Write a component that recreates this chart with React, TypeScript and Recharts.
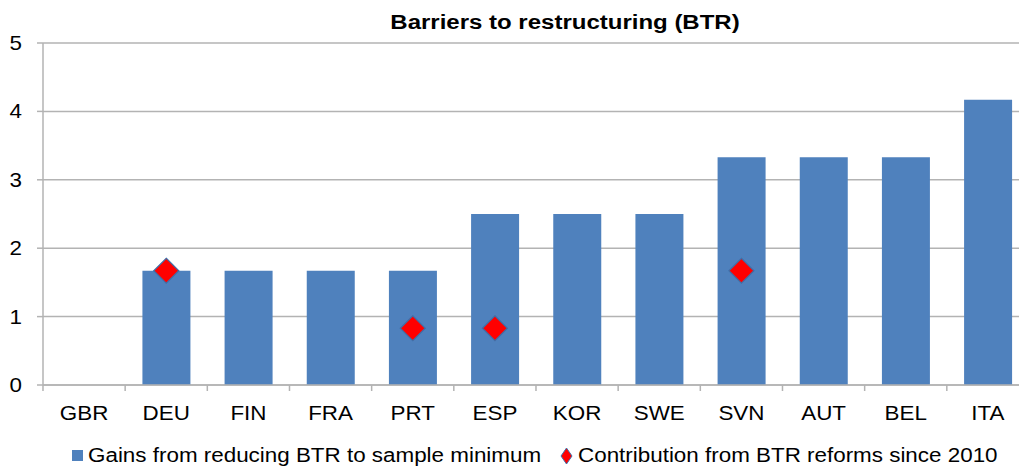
import React from 'react';
import { ComposedChart, Bar, Line, XAxis, YAxis, CartesianGrid } from 'recharts';

const countries = ['GBR', 'DEU', 'FIN', 'FRA', 'PRT', 'ESP', 'KOR', 'SWE', 'SVN', 'AUT', 'BEL', 'ITA'];
const gains = [0, 1.67, 1.67, 1.67, 1.67, 2.5, 2.5, 2.5, 3.33, 3.33, 3.33, 4.17];
const reforms: (number | null)[] = [null, 1.67, null, null, 0.83, 0.83, null, null, 1.67, null, null, null];
const yTicks = [0, 1, 2, 3, 4, 5];

const data = countries.map((c, i) => ({ country: c, gains: gains[i], reforms: reforms[i] }));

const BLUE = '#4F81BD';
const GRID = '#B3B3B3';
const FONT = '"Liberation Sans", Arial, sans-serif';
const SX = 1.12;

const XTick = (props: any) => {
    const { x, y, payload } = props;
    const band = 82.2;
    return (
        <g>
            <line x1={x - band / 2} x2={x - band / 2} y1={y - 8} y2={y - 2} stroke={GRID} strokeWidth={1.5} />
            <g transform={`translate(${x},${y + 27})`}>
                <text transform={`scale(${SX},1)`} textAnchor="middle" fontSize={20} fill="#000" fontFamily={FONT}>
                    {payload.value}
                </text>
            </g>
        </g>
    );
};

const YTick = (props: any) => {
    const { x, y, payload } = props;
    return (
        <g transform={`translate(${x - 13},${y + 7})`}>
            <text transform={`scale(${SX},1)`} textAnchor="end" fontSize={20} fill="#000" fontFamily={FONT}>
                {payload.value}
            </text>
        </g>
    );
};

const Diamond = (props: any) => {
    const { cx, cy, value, index } = props;
    if (value == null || cx == null || cy == null) return <g key={`d-${index}`} />;
    const r = 12.5;
    return (
        <polygon
            key={`d-${index}`}
            points={`${cx},${cy - r} ${cx + r},${cy} ${cx},${cy + r} ${cx - r},${cy}`}
            fill="#FF0000"
            stroke="#3F6FA8"
            strokeWidth={1.2}
        />
    );
};

export default function App() {
    return (
        <div style={{ position: 'fixed', left: 0, top: 0, width: 1019, height: 466, overflow: 'hidden', background: '#fff', fontFamily: FONT }}>
            <div
                style={{
                    position: 'absolute',
                    left: 565,
                    top: 11,
                    transform: `translateX(-50%) scale(1.2,1)`,
                    fontWeight: 'bold',
                    fontSize: 20,
                    whiteSpace: 'nowrap',
                    color: '#000',
                }}
            >
                Barriers to restructuring (BTR)
            </div>
            <ComposedChart
                width={1030}
                height={466}
                data={data}
                margin={{ top: 43, right: 1, bottom: 46, left: 0 }}
                barCategoryGap="21%"
            >
                <CartesianGrid vertical={false} stroke={GRID} strokeWidth={1.5} />
                <XAxis
                    dataKey="country"
                    interval={0}
                    height={35}
                    axisLine={{ stroke: GRID, strokeWidth: 1.5 }}
                    tickLine={false}
                    tick={<XTick />}
                />
                <YAxis
                    domain={[0, 5]}
                    ticks={yTicks}
                    width={43}
                    interval={0}
                    axisLine={{ stroke: GRID, strokeWidth: 1.5 }}
                    tickLine={{ stroke: GRID, strokeWidth: 1.5 }}
                    tickSize={6}
                    tick={<YTick />}
                />
                <Bar dataKey="gains" fill={BLUE} isAnimationActive={false} />
                <Line
                    dataKey="reforms"
                    stroke="none"
                    connectNulls={false}
                    dot={<Diamond />}
                    activeDot={false}
                    isAnimationActive={false}
                />
            </ComposedChart>
            <div
                style={{
                    position: 'absolute',
                    left: 72,
                    top: 444,
                    display: 'flex',
                    alignItems: 'center',
                    fontSize: 20,
                    color: '#000',
                    whiteSpace: 'nowrap',
                }}
            >
                <span style={{ display: 'inline-block', width: 11, height: 11, background: BLUE, marginRight: 5, flexShrink: 0 }} />
                <span style={{ display: 'inline-block', width: 447, flexShrink: 0 }}>
                    <span style={{ display: 'inline-block', transform: `scale(${SX},1)`, transformOrigin: 'left center' }}>
                        Gains from reducing BTR to sample minimum
                    </span>
                </span>
                <span style={{ display: 'inline-block', width: 25, flexShrink: 0 }} />
                <svg width={13} height={18} style={{ marginRight: 5, flexShrink: 0 }}>
                    <polygon points="6.5,1 12,9 6.5,17 1,9" fill="#FF0000" stroke="#3F6FA8" strokeWidth={1} />
                </svg>
                <span style={{ display: 'inline-block', transform: `scale(${SX},1)`, transformOrigin: 'left center' }}>
                    Contribution from BTR reforms since 2010
                </span>
            </div>
        </div>
    );
}
